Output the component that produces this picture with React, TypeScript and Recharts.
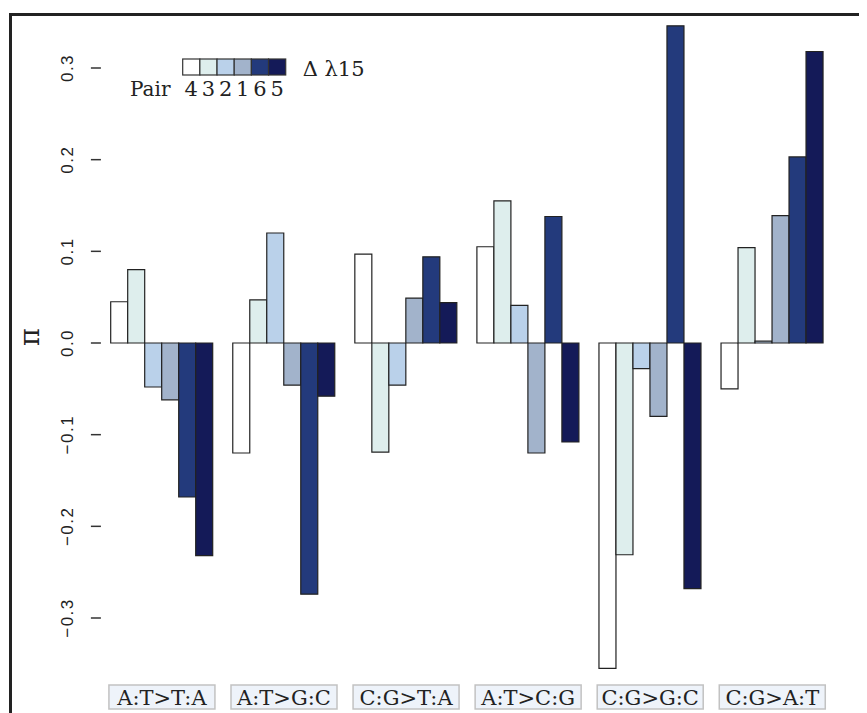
import * as React from 'react';
import { BarChart, Bar, XAxis, YAxis, Legend } from 'recharts';

// mutation classes along the x axis
const categories = ['A:T>T:A', 'A:T>G:C', 'C:G>T:A', 'A:T>C:G', 'C:G>G:C', 'C:G>A:T'];

// pi values per pair
const pair4 = [0.045, -0.120, 0.097, 0.105, -0.355, -0.050];
const pair3 = [0.080, 0.047, -0.119, 0.155, -0.231, 0.104];
const pair2 = [-0.048, 0.120, -0.046, 0.041, -0.028, 0.002];
const pair1 = [-0.062, -0.046, 0.049, -0.120, -0.080, 0.139];
const pair6 = [-0.168, -0.274, 0.094, 0.138, 0.346, 0.203];
const pair5 = [-0.232, -0.058, 0.044, -0.108, -0.268, 0.318];

const pairLabels = ['4', '3', '2', '1', '6', '5'];
const yTicks = [-0.3, -0.2, -0.1, 0, 0.1, 0.2, 0.3];

const colors = ['#ffffff', '#deeeed', '#bad1ea', '#a2b3cb', '#233a7c', '#141a58'];
const seriesValues = [pair4, pair3, pair2, pair1, pair6, pair5];

const data = categories.map((c, i) => {
  const row: any = { name: c };
  pairLabels.forEach((p, j) => { row['p' + p] = seriesValues[j][i]; });
  return row;
});

const serif = '"DejaVu Serif", serif';
const sans = '"Liberation Sans", Arial, sans-serif';

const XTick = (props: any) => {
  const { x, y, payload } = props;
  return (
    <g>
      <rect x={x - 53} y={y + 12} width={106} height={24} fill="#eef3fa" stroke="#c2c2c2" strokeWidth={1.5} />
      <text x={x} y={y + 32} textAnchor="middle" style={{ fontFamily: serif, fontSize: 21 }} fill="#222">
        {payload.value}
      </text>
    </g>
  );
};

const YTick = (props: any) => {
  const { x, y, payload } = props;
  const v = payload.value;
  const label = v === 0 ? '0.0' : (v < 0 ? '\u2212' : '') + Math.abs(v).toFixed(1);
  const cx = x - 23;
  return (
    <text x={cx} y={y} transform={`rotate(-90, ${cx}, ${y})`} textAnchor="middle"
          dominantBaseline="central" style={{ fontFamily: sans, fontSize: 17, letterSpacing: 1.5 }} fill="#222">
      {label}
    </text>
  );
};

const PiLabel = (props: any) => {
  const { viewBox } = props;
  const cx = viewBox.x + 21;
  const cy = viewBox.y + viewBox.height / 2 - 6;
  return (
    <text x={cx} y={cy} transform={`rotate(-90, ${cx}, ${cy})`} textAnchor="middle"
          dominantBaseline="central" style={{ fontFamily: serif, fontSize: 27 }} fill="#222">
      π
    </text>
  );
};

const LegendBox = () => {
  const w = 17.17;
  return (
    <svg width={260} height={60} style={{ display: 'block' }}>
      {colors.map((c, i) => (
        <rect key={i} x={62.7 + i * w} y={9} width={w} height={16} fill={c} stroke="#333" strokeWidth={1.2} />
      ))}
      <text x={182.7} y={26} style={{ fontFamily: serif, fontSize: 21 }} fill="#222">Δ λ15</text>
      <text x={10} y={46} style={{ fontFamily: serif, fontSize: 20 }} fill="#222">Pair</text>
      {pairLabels.map((p, i) => (
        <text key={p} x={62.7 + i * w + w / 2} y={46} textAnchor="middle"
              style={{ fontFamily: serif, fontSize: 21 }} fill="#222">
          {p}
        </text>
      ))}
    </svg>
  );
};

export default function App() {
  return (
    <div style={{ position: 'relative', width: 859, height: 705 }}>
      <BarChart width={859} height={705} data={data} barGap={0} barCategoryGap={9.8}
                margin={{ top: 5, right: 33.7, bottom: 0, left: 0 }}>
        <XAxis dataKey="name" axisLine={false} tickLine={false} tickSize={0} tickMargin={0}
               height={40} interval={0} tick={<XTick />} />
        <YAxis type="number" domain={[-0.36, 0.36]} ticks={yTicks} width={92.9}
               axisLine={false} tickSize={10} tickMargin={0}
               tickLine={{ stroke: '#333', strokeWidth: 1.5 }}
               tick={<YTick />} label={<PiLabel />} />
        <Legend layout="horizontal" verticalAlign="middle" align="center"
                wrapperStyle={{ position: 'absolute', top: 42, left: 112, width: 260, height: 60 }}
                content={<LegendBox />} />
        {pairLabels.map((p, j) => (
          <Bar key={p} dataKey={'p' + p} name={'Pair ' + p} fill={colors[j]}
               stroke="#222" strokeWidth={1.2} isAnimationActive={false} />
        ))}
      </BarChart>
      <div style={{ position: 'absolute', left: 1, top: 5, width: 858, height: 700,
                    borderTop: '3px solid #222', borderLeft: '3px solid #222', pointerEvents: 'none' }} />
    </div>
  );
}
